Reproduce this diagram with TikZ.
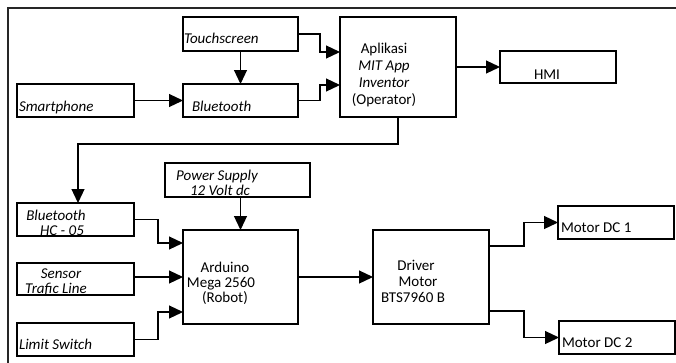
\documentclass[tikz,border=0pt]{standalone}
\usepackage{fontspec}
\setmainfont{Carlito}
\usetikzlibrary{arrows.meta}
\begin{document}
\begin{tikzpicture}[x=1pt,y=-1pt,
  box/.style={draw, line width=1.2pt, inner sep=0pt, outer sep=0pt},
  txt/.style={inner sep=0pt, outer sep=0pt, font=\fontsize{15}{16}\selectfont},
  arr/.style={line width=1.2pt, -{Triangle[length=14pt,width=13pt]}},
  frame/.style={line width=1.8pt, draw=black!85}]
\useasboundingbox (0,0) rectangle (676,362);
\draw[frame] (690,8) -- (8,8) -- (8,370);
% boxes
\node[box, minimum width=115pt, minimum height=34pt] (ts)  at (240.5,34) {};
\node[box, minimum width=117pt, minimum height=33pt] (sp)  at (75.5,100.5) {};
\node[box, minimum width=115pt, minimum height=33pt] (bt)  at (240.5,100.5) {};
\node[box, minimum width=116pt, minimum height=100pt] (app) at (398,67) {};
\node[box, minimum width=116pt, minimum height=32pt] (hmi) at (558,67) {};
\node[box, minimum width=117pt, minimum height=33pt] (hc)  at (75.5,219.5) {};
\node[box, minimum width=117pt, minimum height=32pt] (sen) at (75.5,279) {};
\node[box, minimum width=117pt, minimum height=33pt] (ls)  at (75.5,339.5) {};
\node[box, minimum width=145pt, minimum height=34pt] (ps)  at (237.5,180) {};
\node[box, minimum width=115pt, minimum height=94pt] (ard) at (240.5,277) {};
\node[box, minimum width=116pt, minimum height=94pt] (drv) at (431,277) {};
\node[box, minimum width=116pt, minimum height=33pt] (m1)  at (616,222.5) {};
\node[box, minimum width=116pt, minimum height=33pt] (m2)  at (617,337.5) {};
% texts
\node[txt, anchor=base west] (tts) at (184,43) {\itshape Touchscreen};
\node[txt, anchor=base west] (tsp) at (19,111) {\itshape Smartphone};
\node[txt, anchor=base west] (tbt) at (192,111) {\itshape Bluetooth};
\node[txt, anchor=base] (tapp1) at (384,53) {Aplikasi};
\node[txt, anchor=base] (tapp2) at (384,70) {\itshape MIT App};
\node[txt, anchor=base] (tapp3) at (384,87) {\itshape Inventor};
\node[txt, anchor=base] (tapp4) at (384,104) {(Operator)};
\node[txt, anchor=base] (thmi) at (547,79) {HMI};
\node[txt, anchor=base] (thc1) at (56,220) {\itshape Bluetooth};
\node[txt, anchor=base] (thc2) at (62,235) {\itshape HC - 05};
\node[txt, anchor=base] (tsen1) at (61,278) {\itshape Sensor};
\node[txt, anchor=base] (tsen2) at (56,293) {\itshape Trafic Line};
\node[txt, anchor=base west] (tls) at (19,349) {\itshape Limit Switch};
\node[txt, anchor=base] (tps1) at (217,180) {\itshape Power Supply};
\node[txt, anchor=base] (tps2) at (220,195) {\itshape 12 Volt dc};
\node[txt, anchor=base] (tard1) at (225,272) {Arduino};
\node[txt, anchor=base] (tard2) at (221,287) {Mega 2560};
\node[txt, anchor=base] (tard3) at (225,302) {(Robot)};
\node[txt, anchor=base] (tdrv1) at (416,270) {Driver};
\node[txt, anchor=base] (tdrv2) at (418,286) {Motor};
\node[txt, anchor=base] (tdrv3) at (413,302) {BTS7960 B};
\node[txt, anchor=base west] (tm1) at (561,232) {Motor DC 1};
\node[txt, anchor=base west] (tm2) at (562,347) {Motor DC 2};
% connectors
\draw[arr] (ts.south) -- (bt.north);
\draw[arr] (sp.east) -- (bt.west);
\draw[arr] (ts.east) -- ++(22pt,0pt) |- ([yshift=-35pt]app.north west);
\draw[arr] (bt.east) -- ++(22pt,0pt) |- ([yshift=-68pt]app.north west);
\draw[arr] (app.east) -- (hmi.west);
\draw[arr] (app.south) -- ++(0pt,-27pt) -| ([xshift=2.5pt]hc.north);
\draw[arr] (ard.north |- ps.south) -- (ard.north);
\draw[arr] (hc.east) -- ++(24pt,0pt) |- ([yshift=-13pt]ard.north west);
\draw[arr] (ard.west -| sen.east) -- (ard.west);
\draw[arr] (ls.east) -- ++(24pt,0pt) |- ([yshift=12pt]ard.south west);
\draw[arr] (ard.east) -- (drv.west);
\draw[arr] ([yshift=-16pt]drv.north east) -- ++(35pt,0pt) |- (m1.west);
\draw[arr] ([yshift=13pt]drv.south east) -- ++(35pt,0pt) |- (m2.west);
\end{tikzpicture}
\end{document}
